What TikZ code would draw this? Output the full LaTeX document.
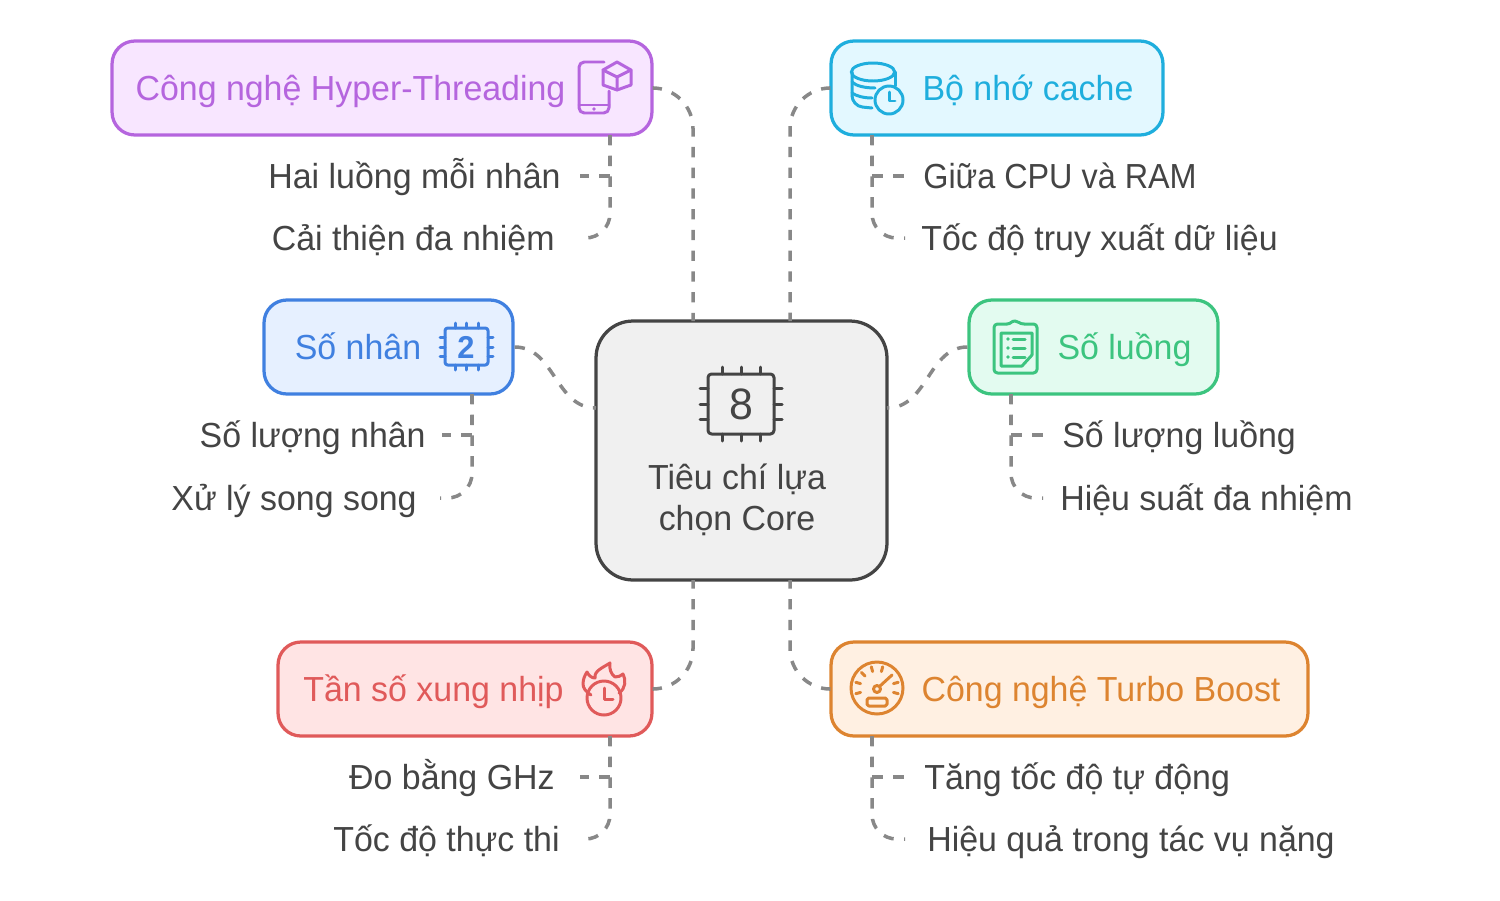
\documentclass[tikz,border=0pt]{standalone}
\usepackage{fontspec}
\setmainfont[FakeStretch=0.975]{Liberation Sans}
\usepackage{tikz}
\usetikzlibrary{calc}

\definecolor{hyperline}{HTML}{B565DE}
\definecolor{hyperfill}{HTML}{F8E6FF}
\definecolor{cacheline}{HTML}{1FAEDD}
\definecolor{cachefill}{HTML}{E3F8FF}
\definecolor{coresline}{HTML}{4080E0}
\definecolor{coresfill}{HTML}{E6F0FF}
\definecolor{threadline}{HTML}{3CC47F}
\definecolor{threadfill}{HTML}{E3FBF0}
\definecolor{clockline}{HTML}{E05A5A}
\definecolor{clockfill}{HTML}{FFE4E4}
\definecolor{turboline}{HTML}{DD8430}
\definecolor{turbofill}{HTML}{FFF0E2}
\definecolor{mainline}{HTML}{444444}
\definecolor{mainfill}{HTML}{F0F0F0}
\definecolor{linkgray}{HTML}{888888}

\tikzset{
  topic/.style={draw=#1line, fill=#1fill, line width=1.85pt, rounded corners=13pt,
                minimum height=1.88cm, inner sep=0pt},
  topictext/.style={text=#1line, font=\fontsize{19.8}{23}\selectfont, inner sep=0pt,
                    text height=0.5cm, text depth=0pt},
  leafleft/.style={anchor=east, text=mainline, font=\fontsize{19.8}{23}\selectfont,
                   inner ysep=0pt, inner xsep=#1*0.02cm, text height=0.5cm, text depth=0pt},
  leafright/.style={anchor=west, text=mainline, font=\fontsize{19.8}{23}\selectfont,
                    inner ysep=0pt, inner xsep=#1*0.02cm, text height=0.5cm, text depth=0pt},
  link/.style={draw=linkgray, line width=2pt, dash pattern=on 5.9pt off 5.9pt},
  icon/.style={draw=#1line, line width=1.7pt, line cap=round, line join=round}
}

\begin{document}
\begin{tikzpicture}[x=0.02cm,y=-0.02cm]
  \useasboundingbox (0,0) rectangle (1500,900);

  % central box
  \node[topic=main, rounded corners=21pt, minimum width=5.82cm, minimum height=5.18cm] (core) at (741.5,450.5) {};
  \node[align=center, text=mainline, font=\fontsize{19.8}{23.2}\selectfont, inner sep=0pt] (coretext) at (737,500) {Tiêu chí lựa\\chọn Core};

  % topic boxes
  \node[topic=hyper, minimum width=10.8cm] (hyper) at (382,88) {};
  \node[topic=cache, minimum width=6.64cm] (cache) at (997,88) {};
  \node[topic=cores, minimum width=4.98cm] (cores) at (388.5,347) {};
  \node[topic=thread, minimum width=4.98cm] (thread) at (1093.5,347) {};
  \node[topic=clock, minimum width=7.48cm] (clock) at (465,689) {};
  \node[topic=turbo, minimum width=9.54cm] (turbo) at (1069.5,689) {};

  \node[topictext=hyper] (hypertext) at (350.5,88) {Công nghệ Hyper-Threading};
  \node[topictext=cache] (cachetext) at (1028,88) {Bộ nhớ cache};
  \node[topictext=cores] (corestext) at (358,347) {Số nhân};
  \node[topictext=thread] (threadtext) at (1124.5,347) {Số luồng};
  \node[topictext=clock] (clocktext) at (433.5,689) {Tần số xung nhịp};
  \node[topictext=turbo] (turbotext) at (1101,689) {Công nghệ Turbo Boost};

  % leaves
  \node[leafleft=19] (hai) at (580,176) {Hai luồng mỗi nhân};
  \node[leafleft=23] (cai) at (578,238) {Cải thiện đa nhiệm};
  \node[leafright=18] (giua) at (905,176) {\addfontfeature{FakeStretch=0.93}Giữa CPU và RAM};
  \node[leafright=16] (tocdo) at (905,238) {Tốc độ truy xuất dữ liệu};
  \node[leafleft=16] (soluong) at (442,435) {Số lượng nhân};
  \node[leafleft=23] (xuly) at (440,498) {Xử lý song song};
  \node[leafright=19] (soluong2) at (1043,435) {Số lượng luồng};
  \node[leafright=17] (hieusuat) at (1043,498) {Hiệu suất đa nhiệm};
  \node[leafleft=25] (doghz) at (580,777) {Đo bằng GHz};
  \node[leafleft=18] (thucthi) at (578,839) {Tốc độ thực thi};
  \node[leafright=19] (tang) at (905,777) {Tăng tốc độ tự động};
  \node[leafright=22] (hieuqua) at (905,839) {Hiệu quả trong tác vụ nặng};

  \coordinate (coreA) at (693,321);
  \coordinate (coreB) at (790,321);
  \coordinate (coreC) at (693,580);
  \coordinate (coreD) at (790,580);
  \coordinate (hyperfoot) at (610,135);
  \coordinate (cachefoot) at (872,135);
  \coordinate (coresfoot) at (472,394);
  \coordinate (threadfoot) at (1011,394);
  \coordinate (clockfoot) at (610,736);
  \coordinate (turbofoot) at (872,736);
  \coordinate (coreleft) at (596,408);
  \coordinate (coreright) at (887,408);

  % links to the centre
  \draw[link, rounded corners=23pt] (hyper.east) -| (coreA);
  \draw[link, rounded corners=23pt] (cache.west) -| (coreB);
  \draw[link, rounded corners=23pt] (clock.east) -| (coreC);
  \draw[link, rounded corners=23pt] (turbo.west) -| (coreD);
  \draw[link] (cores.east) .. controls (555,347) and (555,408) .. (coreleft);
  \draw[link] (thread.west) .. controls (928,347) and (928,408) .. (coreright);

  % links to the leaves
  \draw[link] (hyperfoot) |- (hai.east);
  \draw[link, rounded corners=14pt] (hyperfoot) |- (cai.east);
  \draw[link] (cachefoot) |- (giua.west);
  \draw[link, rounded corners=14pt] (cachefoot) |- (tocdo.west);
  \draw[link] (coresfoot) |- (soluong.east);
  \draw[link, rounded corners=14pt] (coresfoot) |- (xuly.east);
  \draw[link] (threadfoot) |- (soluong2.west);
  \draw[link, rounded corners=14pt] (threadfoot) |- (hieusuat.west);
  \draw[link] (clockfoot) |- (doghz.east);
  \draw[link, rounded corners=14pt] (clockfoot) |- (thucthi.east);
  \draw[link] (turbofoot) |- (tang.west);
  \draw[link, rounded corners=14pt] (turbofoot) |- (hieuqua.west);

  % phone and cube
  \draw[icon=hyper, rounded corners=3pt] (604,62) -- (579,62) -- (579,113) -- (609,113) -- (609,91);
  \draw[icon=hyper] (579,105) -- (609,105);
  \fill[hyperline] (594,109) circle (1.1pt);
  \draw[icon=hyper] (617,62) -- (631,70) -- (631,85) -- (617,90) -- (603,85) -- (603,70) -- cycle;
  \draw[icon=hyper] (603,70) -- (617,77) -- (631,70) (617,77) -- (617,90);

  % database and clock
  \draw[icon=cache] (873,72) ellipse (21.7 and 9);
  \draw[icon=cache, rounded corners=6pt] (852,72) -- (852,106) -- (872,108);
  \draw[icon=cache] (895,72) -- (895,86);
  \draw[icon=cache] (852,82) .. controls (856,86) and (865,88) .. (875,88);
  \draw[icon=cache] (852,93) .. controls (856,96) and (864,98) .. (872,98);
  \draw[icon=cache] (889,100) circle (14);
  \draw[icon=cache] (889,92) -- (889,101) -- (895,101);

  % small chip
  \draw[icon=cores, rounded corners=1.5pt] (445,328) rectangle (488,365);
  \foreach \px in {455,466,478} {
    \draw[icon=cores] (\px,323) -- (\px,328) (\px,365) -- (\px,370);
  }
  \foreach \py in {337,347,356} {
    \draw[icon=cores] (440,\py) -- (445,\py) (488,\py) -- (493,\py);
  }
  \node[text=coresline, font=\fontsize{18}{18}\selectfont\bfseries, inner sep=0pt] (chiptwo) at (466,347) {2};

  % clipboard
  \draw[icon=thread, rounded corners=2pt] (1007,324) -- (994,324) -- (994,373) -- (1037,373) -- (1037,324) -- (1024,324);
  \draw[icon=thread] (1007,324) .. controls (1011,324) and (1011,321) .. (1015,321) .. controls (1019,321) and (1019,324) .. (1024,324);
  \draw[icon=thread] (1001,333) -- (1032,333) -- (1032,355) -- (1022,366) -- (1001,366) -- cycle;
  \foreach \py in {339,348,357} {
    \fill[threadline] (1008,\py) circle (1.1pt);
    \draw[icon=thread] (1013,\py) -- (1025,\py);
  }

  % flame and clock
  \draw[icon=clock] (604,698) circle (17);
  \draw[icon=clock] (604,688) -- (604,699) -- (613,699);
  \draw[icon=clock] (591,695) .. controls (586,692) and (583,688) .. (583,684)
    .. controls (583,679) and (585,675) .. (587,672)
    .. controls (589,676) and (592,678) .. (595,678)
    .. controls (594,671) and (602,668) .. (610,663)
    .. controls (609,669) and (611,674) .. (615,677)
    .. controls (618,677) and (621,676) .. (623,674)
    .. controls (626,680) and (626,688) .. (619,693);

  % gauge
  \draw[icon=turbo] (877,688) circle (26);
  \foreach \ang in {-15,15,75,105,135,165,195} {
    \draw[icon=turbo] ($(877,688)+(\ang:17 and -17)$) -- ($(877,688)+(\ang:22 and -22)$);
  }
  \draw[icon=turbo] (877,689) circle (3.5);
  \draw[icon=turbo] (880,686) -- (892,675);
  \draw[icon=turbo, rounded corners=1pt] (867,698) rectangle (887,706);

  % large chip
  \draw[icon=main, rounded corners=2pt] (708,374) rectangle (774,434);
  \foreach \px in {722,741,760} {
    \draw[icon=main] (\px,367) -- (\px,374) (\px,434) -- (\px,441);
  }
  \foreach \py in {388,404,419} {
    \draw[icon=main] (700,\py) -- (708,\py) (774,\py) -- (782,\py);
  }
  \node[text=mainline, font=\fontsize{25}{25}\selectfont, inner sep=0pt] (chipeight) at (741,404) {8};
\end{tikzpicture}
\end{document}
